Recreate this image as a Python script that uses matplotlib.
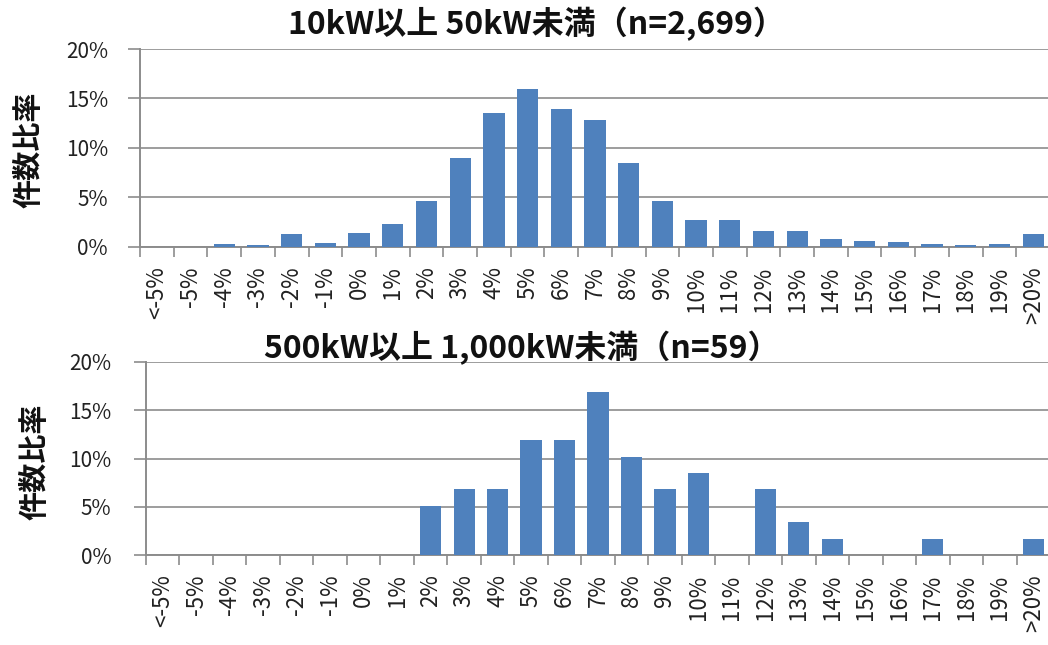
#!/usr/bin/env python3
# -*- coding: utf-8 -*-

import matplotlib
matplotlib.use('Agg')
import matplotlib.pyplot as plt
from matplotlib.ticker import FixedLocator, FuncFormatter


plt.rcParams['font.family'] = ['Noto Sans CJK JP', 'DejaVu Sans']

categories = (['<-5%', '-5%', '-4%', '-3%', '-2%', '-1%']
              + ['%d%%' % i for i in range(0, 20)]
              + ['>20%'])

# 件数比率 (%)
small_share = [0.0, 0.0, 0.3, 0.2, 1.3, 0.4, 1.4, 2.3, 4.6, 9.0,
               13.5, 16.0, 13.9, 12.8, 8.5, 4.6, 2.7, 2.7, 1.65, 1.65,
               0.8, 0.6, 0.55, 0.35, 0.25, 0.35, 1.3]
large_share = [0.0, 0.0, 0.0, 0.0, 0.0, 0.0, 0.0, 0.0, 5.1, 6.8,
               6.8, 11.9, 11.9, 16.9, 10.2, 6.8, 8.5, 0.0, 6.8, 3.4,
               1.7, 0.0, 0.0, 1.7, 0.0, 0.0, 1.7]

small_title = '10kW以上 50kW未満（n=2,699）'
large_title = '500kW以上 1,000kW未満（n=59）'
y_label = '件数比率'

BAR = '#4f81bd'
GRID = '#8c8c8c'
W, H = 1048, 645


def px_rect(left, top, right, bottom):
    return [left / W, 1 - bottom / H, (right - left) / W, (bottom - top) / H]


def draw_panel(fig, rect, values, ypad):
    ax = fig.add_axes(rect)
    x = list(range(len(categories)))
    ax.bar(x, values, width=0.63, color=BAR, zorder=3)

    ax.set_xlim(-0.5, len(categories) - 0.5)
    ax.set_ylim(0, 20)

    ax.set_yticks([0, 5, 10, 15, 20])
    ax.yaxis.set_major_formatter(FuncFormatter(lambda v, _: '%d%%' % v))
    ax.yaxis.grid(True, color=GRID, lw=1.2, zorder=0)
    ax.tick_params(axis='y', length=9, width=1.2, color=GRID, pad=ypad,
                   labelsize=15, labelcolor='#222222')

    # boundary ticks between categories, labels at centres
    ax.xaxis.set_major_locator(FixedLocator([i - 0.5 for i in range(len(categories) + 1)]))
    ax.xaxis.set_major_formatter(FuncFormatter(lambda v, _: ''))
    ax.xaxis.set_minor_locator(FixedLocator(x))
    ax.set_xticklabels(categories, minor=True, rotation=90)
    ax.tick_params(axis='x', which='major', length=7, width=1.2, color=GRID)
    ax.tick_params(axis='x', which='minor', length=0, pad=14,
                   labelsize=16, labelcolor='#222222')

    for side in ('top', 'right'):
        ax.spines[side].set_visible(False)
    for side in ('left', 'bottom'):
        ax.spines[side].set_color(GRID)
        ax.spines[side].set_linewidth(1.4)
    return ax


def main():
    fig = plt.figure(figsize=(W / 100, H / 100), dpi=100)

    draw_panel(fig, px_rect(140, 49, 1050, 247), small_share, 14)
    draw_panel(fig, px_rect(146, 362, 1050, 555), large_share, 16)

    fig.text(536 / W, 1 - 24 / H, small_title, ha='center', va='center',
             fontsize=23, fontweight='bold', color='#111111')
    fig.text(522 / W, 1 - 348 / H, large_title, ha='center', va='center',
             fontsize=23, fontweight='bold', color='#111111')

    fig.text(28 / W, 1 - 150 / H, y_label, rotation=90, ha='center',
             va='center', fontsize=21, fontweight='bold', color='#111111')
    fig.text(34 / W, 1 - 462 / H, y_label, rotation=90, ha='center',
             va='center', fontsize=21, fontweight='bold', color='#111111')

    fig.savefig('out.png', dpi=100)
    plt.close(fig)


if __name__ == '__main__':
    main()
